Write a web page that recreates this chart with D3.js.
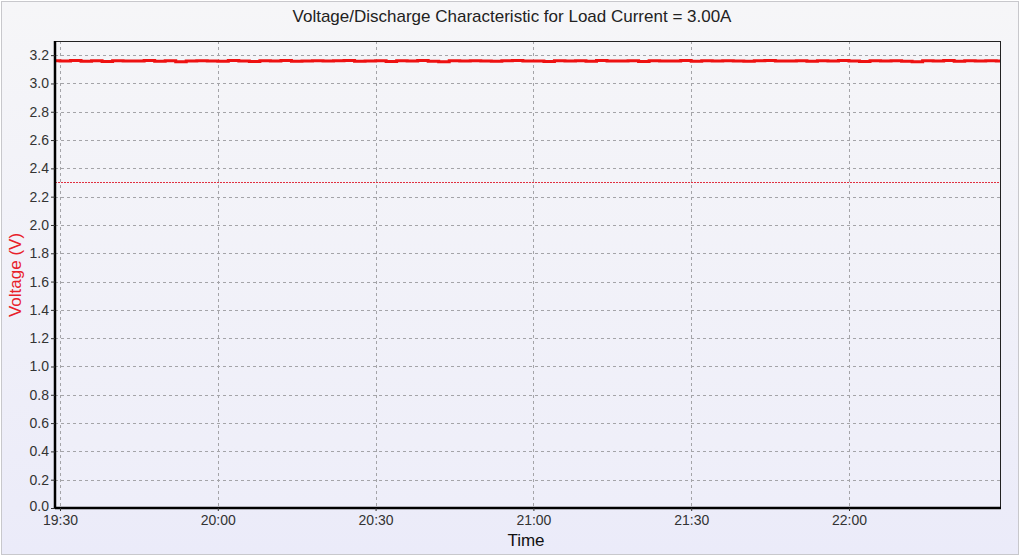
<!DOCTYPE html>
<html><head><meta charset="utf-8">
<script src="https://cdn.jsdelivr.net/npm/d3@7"></script>
<style>body{margin:0;padding:0;background:#fff;}svg{display:block;font-family:"Liberation Sans",Arial,sans-serif;}</style>
</head><body><svg id="c" width="1024" height="558"></svg>
<script>
const title = "Voltage/Discharge Characteristic for Load Current = 3.00A";
const yLabel = "Voltage (V)";
const xLabel = "Time";
const xTickLabels = ["19:30","20:00","20:30","21:00","21:30","22:00"];
const yTicks = [0,0.2,0.4,0.6,0.8,1.0,1.2,1.4,1.6,1.8,2.0,2.2,2.4,2.6,2.8,3.0,3.2];
const cutoffVoltage = 2.3;
// minutes after 19:30 and measured voltage
const minutes = [-1,1,3,5,7,9,11,13,15,17,19,21,23,25,27,29,31,33,35,37,39,41,43,45,47,49,51,53,55,57,59,61,63,65,67,69,71,73,75,77,79,81,83,85,87,89,91,93,95,97,99,101,103,105,107,109,111,113,115,117,119,121,123,125,127,129,131,133,135,137,139,141,143,145,147,149,151,153,155,157,159,161,163,165,167,169,171,173,175,177,179];
const voltage = [3.160,3.158,3.163,3.157,3.160,3.156,3.161,3.158,3.159,3.162,3.157,3.160,3.153,3.159,3.161,3.158,3.157,3.163,3.159,3.156,3.160,3.158,3.162,3.157,3.159,3.161,3.158,3.160,3.163,3.157,3.159,3.161,3.156,3.160,3.158,3.162,3.157,3.153,3.160,3.159,3.161,3.158,3.157,3.160,3.162,3.158,3.159,3.156,3.161,3.158,3.160,3.157,3.162,3.159,3.158,3.161,3.156,3.160,3.158,3.159,3.162,3.157,3.160,3.158,3.161,3.159,3.157,3.160,3.163,3.158,3.159,3.161,3.157,3.160,3.158,3.162,3.159,3.156,3.160,3.158,3.161,3.157,3.154,3.160,3.159,3.162,3.157,3.160,3.158,3.161,3.159];

const W=1024,H=558;
const m={l:55,t:41,r:1001,b:508};
const svg=d3.select("#c");
const defs=svg.append("defs");
const g1=defs.append("linearGradient").attr("id","bg").attr("x1",0).attr("y1",0).attr("x2",0).attr("y2",1);
g1.append("stop").attr("offset","0%").attr("stop-color","#f6f6f8");
g1.append("stop").attr("offset","100%").attr("stop-color","#ebebf9");
const g2=defs.append("linearGradient").attr("id","pbg").attr("x1",0).attr("y1",0).attr("x2",0).attr("y2",1);
g2.append("stop").attr("offset","0%").attr("stop-color","#f5f5f8");
g2.append("stop").attr("offset","100%").attr("stop-color","#eeeef9");

svg.append("rect").attr("width",W).attr("height",H).attr("fill","#fff");
svg.append("rect").attr("x",1.5).attr("y",1.5).attr("width",1017).attr("height",553).attr("fill","url(#bg)").attr("stroke","#c8c8cc");

const base=new Date(2000,0,1,19,30);
const t=mm=>new Date(base.getTime()+mm*60000);
const x=d3.scaleTime().domain([t(-0.95),t(178.9)]).range([m.l,m.r]);
const y=d3.scaleLinear().domain([0,3.3]).range([m.b,m.t]);

svg.append("rect").attr("x",m.l).attr("y",m.t).attr("width",m.r-m.l).attr("height",m.b-m.t).attr("fill","url(#pbg)");

const xTickVals=xTickLabels.map((s,i)=>t(i*30));
// grid
svg.append("g").selectAll("line").data(yTicks).join("line")
 .attr("x1",m.l).attr("x2",m.r).attr("y1",d=>Math.round(y(d))+0.5).attr("y2",d=>Math.round(y(d))+0.5)
 .attr("stroke","#a4a4a8").attr("stroke-dasharray","3,3").attr("stroke-width",1);
svg.append("g").selectAll("line").data(xTickVals).join("line")
 .attr("y1",m.t).attr("y2",m.b).attr("x1",d=>Math.round(x(d))+0.5).attr("x2",d=>Math.round(x(d))+0.5)
 .attr("stroke","#a4a4a8").attr("stroke-dasharray","3,3").attr("stroke-width",1);

// cutoff line
svg.append("line").attr("x1",m.l).attr("x2",m.r).attr("y1",y(cutoffVoltage)).attr("y2",y(cutoffVoltage))
 .attr("stroke","#e03040").attr("stroke-width",1).attr("stroke-dasharray","2,1");

// data
const data=minutes.map((mm,i)=>({t:t(mm),v:voltage[i]}));
svg.append("defs").append("clipPath").attr("id","clip").append("rect").attr("x",m.l).attr("y",m.t).attr("width",m.r-m.l).attr("height",m.b-m.t);
svg.append("path").datum(data).attr("clip-path","url(#clip)")
 .attr("d",d3.line().x(d=>x(d.t)).y(d=>y(d.v)).curve(d3.curveStep))
 .attr("fill","none").attr("stroke","#ee1111").attr("stroke-width",3);

// frame
svg.append("rect").attr("x",m.l+0.5).attr("y",m.t+0.5).attr("width",m.r-m.l-1).attr("height",m.b-m.t-1).attr("fill","none").attr("stroke","#222").attr("stroke-width",1);

// axes
const yAxis=d3.axisLeft(y).tickValues(yTicks).tickFormat(d3.format(".1f")).tickSize(4).tickPadding(2);
const ya=svg.append("g").attr("transform",`translate(${m.l},0)`).call(yAxis);
ya.select(".domain").attr("stroke","#000").attr("stroke-width",2.5).attr("d",`M0,${m.t}V${m.b}`);
ya.selectAll("text").attr("font-size",14).attr("fill","#333").attr("font-family","Liberation Sans, Arial, sans-serif");
ya.selectAll(".tick line").attr("stroke","#333");
ya.selectAll(".tick text").filter(d=>d===0).attr("dy","0.2em");

const xAxis=d3.axisBottom(x).tickValues(xTickVals).tickFormat((d,i)=>xTickLabels[i]).tickSize(3).tickPadding(4);
const xa=svg.append("g").attr("transform",`translate(0,${m.b})`).call(xAxis);
xa.select(".domain").attr("stroke","#000").attr("stroke-width",2.5).attr("d",`M${m.l},0H${m.r}`);
xa.selectAll("text").attr("font-size",14).attr("fill","#333").attr("font-family","Liberation Sans, Arial, sans-serif");
xa.selectAll(".tick line").attr("stroke","#333");

svg.append("text").attr("x",512).attr("y",22).attr("text-anchor","middle").attr("font-size",17).attr("fill","#222").text(title);
svg.append("text").attr("x",526).attr("y",546).attr("text-anchor","middle").attr("font-size",17).attr("fill","#111").text(xLabel);
svg.append("text").attr("transform","translate(21,275) rotate(-90)").attr("text-anchor","middle").attr("font-size",17).attr("fill","#e8202a").text(yLabel);
</script></body></html>
